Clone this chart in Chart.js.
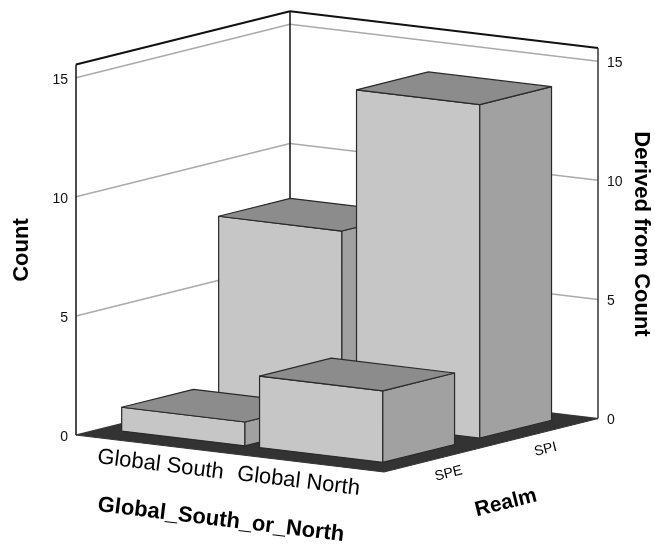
<!DOCTYPE html>
<html>
<head>
<meta charset="utf-8">
<title>Count by Global_South_or_North and Realm</title>
<script src="https://cdn.jsdelivr.net/npm/chart.js@4"></script>
<style>
  html, body { margin: 0; background: #fff; }
  canvas { display: block; }
</style>
</head>
<body>
<canvas id="chart" width="655" height="544"></canvas>
<script>
// Values
const categories = ['Global South', 'Global North'];
const realms = ['SPE', 'SPI'];
const speCounts = [1, 3];
const spiCounts = [8, 14];
const countTicks = [0, 5, 10, 15];

const FONT = '"Liberation Sans", Arial, sans-serif';
const FRONT_X = 384;      // front corner of the floor, the only corner not on an axis
const WALL_TOP = 15.55;   // walls stop a little above the last tick
const BAR_WIDTH = 0.894;  // in category units
const BAR_DEPTH = 0.74;   // in realm units

const fixTicks = (scale) => {
  scale.ticks = countTicks.map(value => ({ value }));
};

// bar charts default x axes to offset: true, which would shift these
const hiddenAxis = (axis, min, max) => ({ type: 'linear', axis, display: false, offset: false, min, max });

const slantedText = (ctx, text, x, y, angle, font) => {
  ctx.save();
  ctx.translate(x, y);
  ctx.rotate(angle * Math.PI / 180);
  ctx.font = font;
  ctx.fillStyle = '#000';
  ctx.textAlign = 'center';
  ctx.textBaseline = 'middle';
  ctx.fillText(text, 0, 0);
  ctx.restore();
};

const polygon = (ctx, points, fill, stroke, width) => {
  ctx.beginPath();
  points.forEach((p, i) => (i ? ctx.lineTo(p.x, p.y) : ctx.moveTo(p.x, p.y)));
  ctx.closePath();
  ctx.fillStyle = fill;
  ctx.fill();
  ctx.strokeStyle = stroke;
  ctx.lineWidth = width;
  ctx.lineJoin = 'round';
  ctx.stroke();
};

const line = (ctx, a, b, color, width) => {
  ctx.beginPath();
  ctx.moveTo(a.x, a.y);
  ctx.lineTo(b.x, b.y);
  ctx.strokeStyle = color;
  ctx.lineWidth = width;
  ctx.stroke();
};

// Draws the walls, floor, cuboids and slanted labels from the chart's scales
const box3d = {
  id: 'box3d',
  beforeDatasetsDraw(chart) {
    const { ctx, chartArea, scales } = chart;
    const { y, y2, u, v } = scales;
    const unit = y.getPixelForValue(0) - y.getPixelForValue(1);

    const left = { x: chartArea.left, y: y.getPixelForValue(0) };
    const right = { x: chartArea.right, y: y2.getPixelForValue(0) };
    const front = { x: FRONT_X, y: chartArea.bottom };
    const back = { x: left.x + right.x - front.x, y: left.y + right.y - front.y };

    // Ground point for a fraction along each floor edge, lifted by a count
    const at = (fu, fv, count = 0) => ({
      x: left.x + fu * (front.x - left.x) + fv * (back.x - left.x),
      y: left.y + fu * (front.y - left.y) + fv * (back.y - left.y) - count * unit
    });
    const frac = (scale, value) => (scale.getPixelForValue(value) - scale.left) / scale.width;
    const pos = (cat, realm, count) => at(frac(u, cat), frac(v, realm), count);

    // Walls
    line(ctx, at(0, 0, WALL_TOP), at(0, 1, WALL_TOP), '#111', 2);
    line(ctx, at(0, 1, WALL_TOP), at(1, 1, WALL_TOP), '#111', 2);
    countTicks.forEach(t => {
      line(ctx, at(0, 0, t), at(0, 1, t), '#aaa', 1.5);
      line(ctx, at(0, 1, t), at(1, 1, t), '#aaa', 1.5);
    });
    line(ctx, at(0, 0), at(0, 0, WALL_TOP), '#111', 1.5);
    line(ctx, at(0, 1), at(0, 1, WALL_TOP), '#111', 1.5);
    line(ctx, at(1, 1), at(1, 1, WALL_TOP), '#333', 1.5);

    // Floor
    polygon(ctx, [at(0, 0), at(1, 0), at(1, 1), at(0, 1)], '#333', '#333', 1);

    // Bars, back row first
    for (let r = realms.length - 1; r >= 0; r--) {
      const counts = chart.data.datasets[r].data;
      categories.forEach((name, c) => {
        const u0 = c - BAR_WIDTH / 2, u1 = c + BAR_WIDTH / 2;
        const v0 = r - BAR_DEPTH / 2, v1 = r + BAR_DEPTH / 2;
        const n = counts[c];
        polygon(ctx, [pos(u0, v0), pos(u1, v0), pos(u1, v0, n), pos(u0, v0, n)], '#c6c6c6', '#2a2a2a', 1.2);
        polygon(ctx, [pos(u1, v0), pos(u1, v1), pos(u1, v1, n), pos(u1, v0, n)], '#a1a1a1', '#2a2a2a', 1.2);
        polygon(ctx, [pos(u0, v0, n), pos(u1, v0, n), pos(u1, v1, n), pos(u0, v1, n)], '#8c8c8c', '#2a2a2a', 1.2);
      });
    }

    // Floor labels follow the floor edges
    categories.forEach((name, c) => {
      const p = at(frac(u, c), 0);
      slantedText(ctx, name, p.x + 3, p.y + 20, 7, `22px ${FONT}`);
    });
    realms.forEach((name, r) => {
      const p = at(1, frac(v, r));
      slantedText(ctx, name, p.x + 3, p.y + 17, -14, `14px ${FONT}`);
    });

    // Axis titles
    slantedText(ctx, 'Count', 22, 250, -90, `bold 22px ${FONT}`);
    slantedText(ctx, 'Derived from Count', 641, 234, 90, `bold 22px ${FONT}`);
    slantedText(ctx, 'Global_South_or_North', 221, 520, 7, `bold 22px ${FONT}`);
    slantedText(ctx, 'Realm', 506, 503, -14, `bold 21px ${FONT}`);
  }
};

new Chart(document.getElementById('chart'), {
  type: 'bar',
  data: {
    labels: categories,
    datasets: [
      { label: realms[0], data: speCounts, backgroundColor: 'transparent', yAxisID: 'y' },
      { label: realms[1], data: spiCounts, backgroundColor: 'transparent', yAxisID: 'y' }
    ]
  },
  options: {
    responsive: false,
    animation: false,
    layout: { padding: { top: 11, bottom: 72 } },
    plugins: { legend: { display: false }, tooltip: { enabled: false } },
    scales: {
      x: { display: false },
      // Floor fractions: one unit is the spacing between neighbouring bars
      u: hiddenAxis('x', -0.592, 1.642),
      v: hiddenAxis('x', -0.635, 1.572),
      y: {
        position: 'left',
        min: -1.55,
        max: 17.53,
        afterBuildTicks: fixTicks,
        afterFit: (scale) => { scale.width = 76; },
        grid: { display: false, drawTicks: false },
        border: { display: false },
        ticks: { color: '#111', padding: 8, labelOffset: 2, font: { family: FONT, size: 14 } }
      },
      y2: {
        position: 'right',
        min: -2.24,
        max: 16.83,
        afterBuildTicks: fixTicks,
        afterFit: (scale) => { scale.width = 57; },
        grid: { display: false, drawTicks: false },
        border: { display: false },
        ticks: { color: '#111', padding: 9, labelOffset: 2, font: { family: FONT, size: 14 } }
      }
    }
  },
  plugins: [box3d]
});
</script>
</body>
</html>
